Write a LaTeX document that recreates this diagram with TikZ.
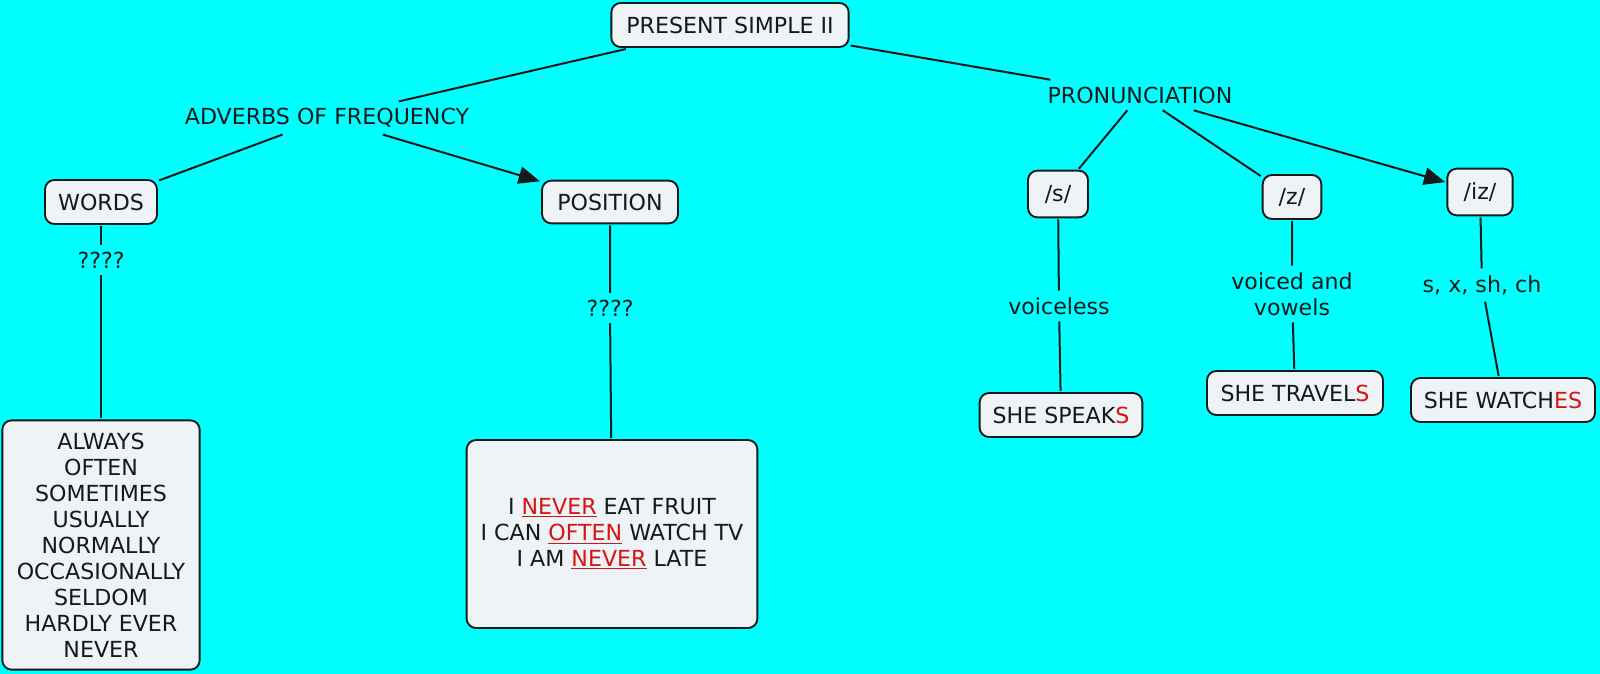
\documentclass[tikz,border=0pt]{standalone}
\usepackage{fontspec}
\setmainfont{DejaVu Sans}
\usetikzlibrary{arrows.meta}

\definecolor{mapbg}{RGB}{0,255,255}
\definecolor{boxfill}{RGB}{238,243,245}
\definecolor{inkred}{RGB}{214,20,20}
\definecolor{ink}{RGB}{20,25,25}
\newcommand{\hl}[1]{\textcolor{inkred}{\underline{#1}}}
\newcommand{\rd}[1]{\textcolor{inkred}{#1}}

\begin{document}
\begin{tikzpicture}[
x=0.75pt,y=-0.75pt,
>={Triangle[length=16pt,width=13pt]},
font=\fontsize{16.6}{19.5}\selectfont,
text=ink,
concept/.style={
rectangle,
rounded corners=7pt,
draw=ink,
line width=1.4pt,
fill=boxfill,
align=center,
inner sep=0pt,
outer sep=1.5pt},
linkword/.style={align=center,inner sep=5pt},
conn/.style={draw=ink,line width=1.5pt}
]

\fill[mapbg] (0,0) rectangle (1600,674);
\useasboundingbox (0,0) rectangle (1600,674);

% top level
\node[concept,minimum width=178pt,minimum height=33pt] (title) at (730,25) {PRESENT SIMPLE II};
\node[linkword] (adverbs) at (327,118) {ADVERBS OF FREQUENCY};
\node[linkword] (pron) at (1140,95) {PRONUNCIATION};

% adverbs
\node[concept,minimum width=84pt,minimum height=33pt] (words) at (101,202) {WORDS};
\node[concept,minimum width=102pt,minimum height=32pt] (position) at (610,202) {POSITION};
\node[linkword] (q1) at (101,260) {????};
\node[linkword] (q2) at (610,308) {????};
\node[concept,minimum width=148pt,minimum height=187pt] (wordlist) at (101,545)
{ALWAYS\\OFTEN\\SOMETIMES\\USUALLY\\NORMALLY\\OCCASIONALLY\\SELDOM\\HARDLY EVER\\NEVER};
\node[concept,minimum width=218pt,minimum height=141pt] (examples) at (612,534)
{I \hl{NEVER} EAT FRUIT\\I CAN \hl{OFTEN} WATCH TV\\I AM \hl{NEVER} LATE};

% pronunciation
\node[concept,minimum width=45pt,minimum height=35pt] (s) at (1058,194) {/s/};
\node[concept,minimum width=44pt,minimum height=33pt] (z) at (1292,197) {/z/};
\node[concept,minimum width=49pt,minimum height=35pt] (iz) at (1480,192) {/iz/};
\node[linkword] (voiceless) at (1059,306) {voiceless};
\node[linkword] (voiced) at (1292,294) {voiced and\\vowels};
\node[linkword] (sibil) at (1482,285) {s, x, sh, ch};
\node[concept,minimum width=122pt,minimum height=33pt] (speaks) at (1061,415) {SHE SPEAK\rd{S}};
\node[concept,minimum width=132pt,minimum height=33pt] (travels) at (1295,393) {SHE TRAVEL\rd{S}};
\node[concept,minimum width=138pt,minimum height=33pt] (watches) at (1503,400) {SHE WATCH\rd{ES}};

% connectors
\draw[conn] (title) -- (adverbs);
\draw[conn] (title) -- (pron);
\draw[conn] (adverbs) -- (words);
\draw[conn,->] (adverbs) -- (position);
\draw[conn] (words) -- (q1) -- (wordlist);
\draw[conn] (position) -- (q2) -- (examples);
\draw[conn] (pron) -- (s);
\draw[conn] (pron) -- (z);
\draw[conn,->] (pron) -- (iz);
\draw[conn] (s) -- (voiceless) -- (speaks);
\draw[conn] (z) -- (voiced) -- (travels);
\draw[conn] (iz) -- (sibil) -- (watches);

\end{tikzpicture}
\end{document}
